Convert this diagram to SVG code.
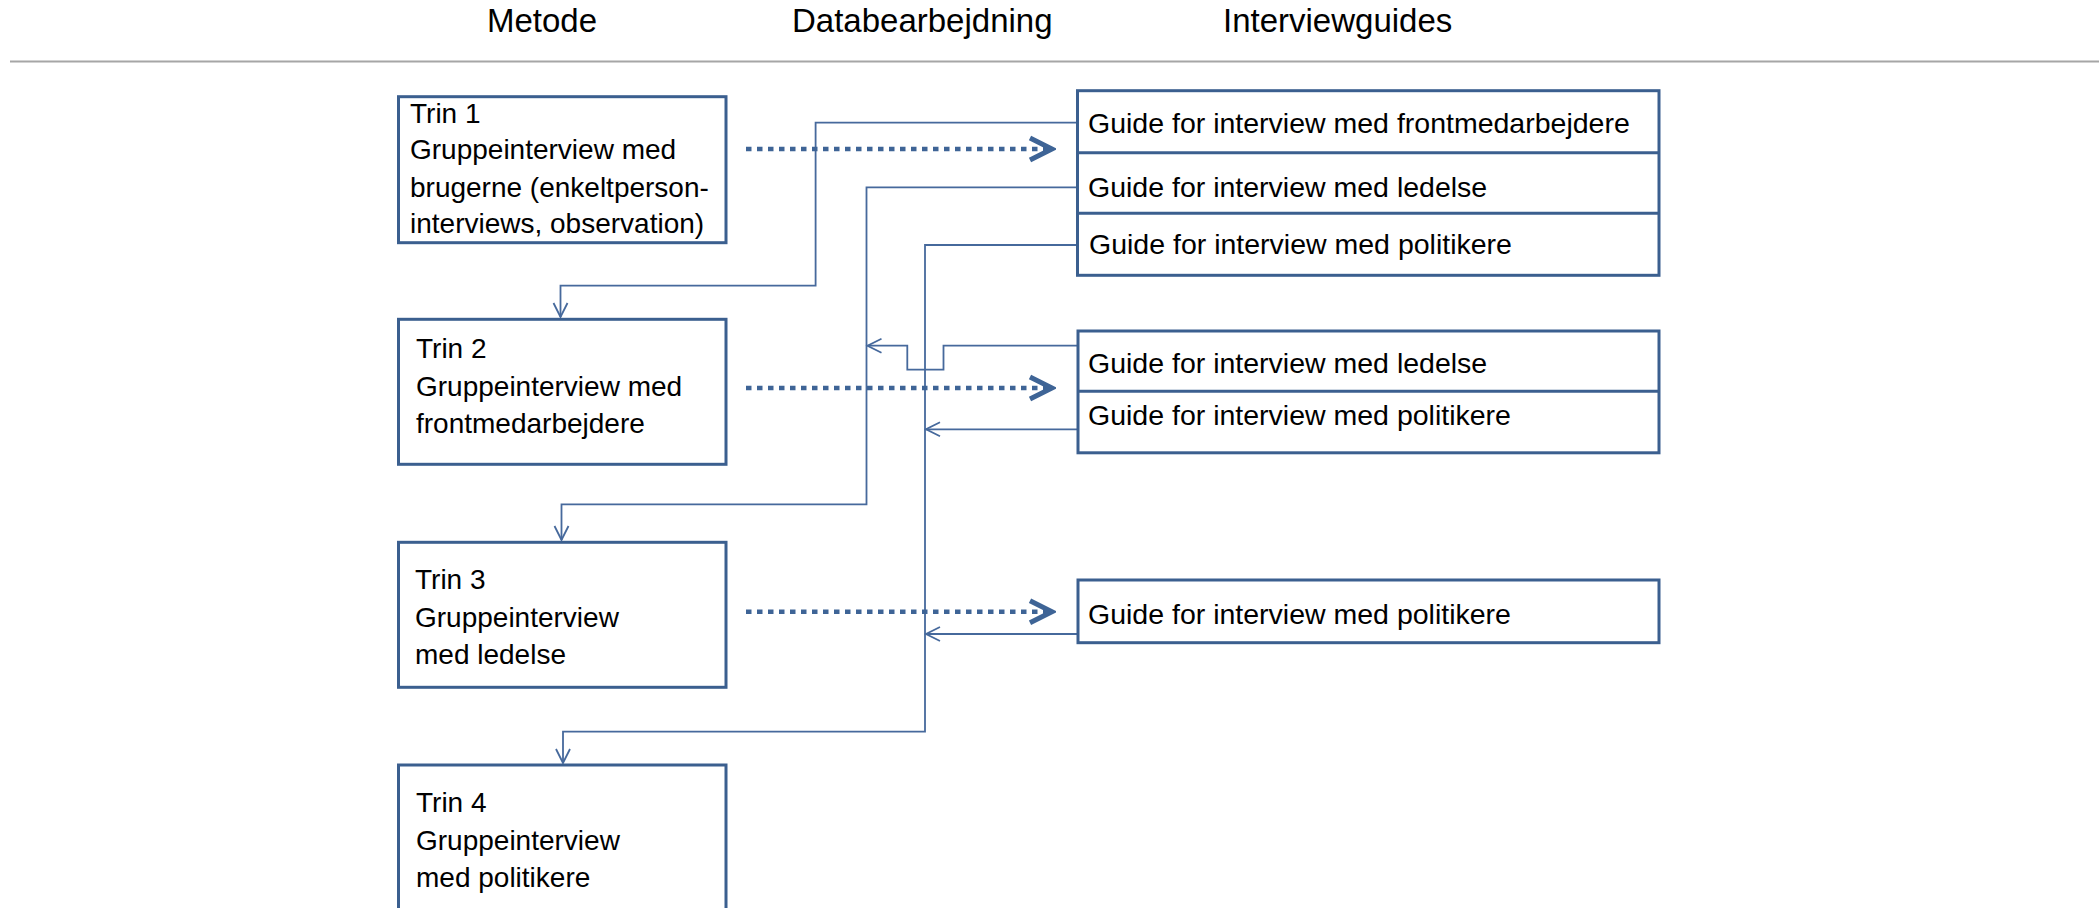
<svg xmlns="http://www.w3.org/2000/svg" width="2099" height="908" viewBox="0 0 2099 908">
<style>
text{font-family:"Liberation Sans",Arial,sans-serif;fill:#000}
.hd{font-size:33px}
.tx{font-size:28px}
.gt{font-size:28.5px}
.box{fill:#fff;stroke:#3B5F8F;stroke-width:3}
.div{stroke:#3B5F8F;stroke-width:3}
.con{fill:none;stroke:#46699C;stroke-width:1.8}
.dot{fill:none;stroke:#3E6496;stroke-width:4.5;stroke-dasharray:5.5 5.5}
</style>
<defs>
<marker id="open" markerUnits="userSpaceOnUse" markerWidth="20" markerHeight="20" viewBox="-16 -10 20 20" refX="0" refY="0" orient="auto">
<path d="M-14,-7 L0,0 L-14,7" fill="none" stroke="#46699C" stroke-width="1.8"/>
</marker>
<marker id="chev" markerUnits="userSpaceOnUse" markerWidth="30" markerHeight="30" viewBox="-26 -15 30 30" refX="0" refY="0" orient="auto">
<path d="M-22,-11 L0,0 L-22,11" fill="none" stroke="#3E6496" stroke-width="5"/>
</marker>
</defs>
<g id="header">
<text class="hd" x="487" y="32">Metode</text>
<text class="hd" x="792" y="32">Databearbejdning</text>
<text class="hd" x="1223" y="32">Interviewguides</text>
<line x1="10" y1="61.5" x2="2099" y2="61.5" stroke="#A6A6A6" stroke-width="2"/>
</g>
<g id="connectors">
<path class="con" d="M1076,122.7 H815.6 V285.7 H560.5 V317" marker-end="url(#open)"/>
<path class="con" d="M1076,187.3 H866.5 V504.3 H561.5 V540" marker-end="url(#open)"/>
<path class="con" d="M1076,245 H925 V731.7 H563 V763" marker-end="url(#open)"/>
<path class="con" d="M1078,345.7 H943.5 V369.7 H907.3 V345.7 H867.5" marker-end="url(#open)"/>
<path class="con" d="M1078,429.3 H926" marker-end="url(#open)"/>
<path class="con" d="M1078,634 H926" marker-end="url(#open)"/>
<path class="dot" d="M746,149 H1052" marker-end="url(#chev)"/>
<path class="dot" d="M746,388 H1052" marker-end="url(#chev)"/>
<path class="dot" d="M746,611.7 H1052" marker-end="url(#chev)"/>
</g>
<g id="trin1">
<rect class="box" x="398.5" y="96.7" width="327.5" height="146"/>
<text class="tx" x="410" y="122.7">Trin 1</text>
<text class="tx" x="410" y="159.3">Gruppeinterview med</text>
<text class="tx" x="410" y="196.7">brugerne (enkeltperson-</text>
<text class="tx" x="410" y="233.3">interviews, observation)</text>
</g>
<g id="trin2">
<rect class="box" x="398.5" y="319.3" width="327.5" height="145"/>
<text class="tx" x="416" y="357.7">Trin 2</text>
<text class="tx" x="416" y="395.7">Gruppeinterview med</text>
<text class="tx" x="416" y="433.3">frontmedarbejdere</text>
</g>
<g id="trin3">
<rect class="box" x="398.5" y="542.3" width="327.5" height="145"/>
<text class="tx" x="415" y="589.3">Trin 3</text>
<text class="tx" x="415" y="626.7">Gruppeinterview</text>
<text class="tx" x="415" y="664">med ledelse</text>
</g>
<g id="trin4">
<rect class="box" x="398.5" y="765" width="327.5" height="146"/>
<text class="tx" x="416" y="812.3">Trin 4</text>
<text class="tx" x="416" y="850">Gruppeinterview</text>
<text class="tx" x="416" y="887.3">med politikere</text>
</g>
<g id="guides1">
<rect class="box" x="1077.5" y="90.7" width="581.5" height="184.6"/>
<line class="div" x1="1077.5" y1="152.7" x2="1659" y2="152.7"/>
<line class="div" x1="1077.5" y1="213.3" x2="1659" y2="213.3"/>
<text class="gt" x="1088" y="132.7">Guide for interview med frontmedarbejdere</text>
<text class="gt" x="1088" y="197.3">Guide for interview med ledelse</text>
<text class="gt" x="1089" y="254.3">Guide for interview med politikere</text>
</g>
<g id="guides2">
<rect class="box" x="1078" y="331" width="581" height="121.8"/>
<line class="div" x1="1078" y1="391.2" x2="1659" y2="391.2"/>
<text class="gt" x="1088" y="373.3">Guide for interview med ledelse</text>
<text class="gt" x="1088" y="425">Guide for interview med politikere</text>
</g>
<g id="guides3">
<rect class="box" x="1078" y="580" width="581" height="62.7"/>
<text class="gt" x="1088" y="624">Guide for interview med politikere</text>
</g>
</svg>
